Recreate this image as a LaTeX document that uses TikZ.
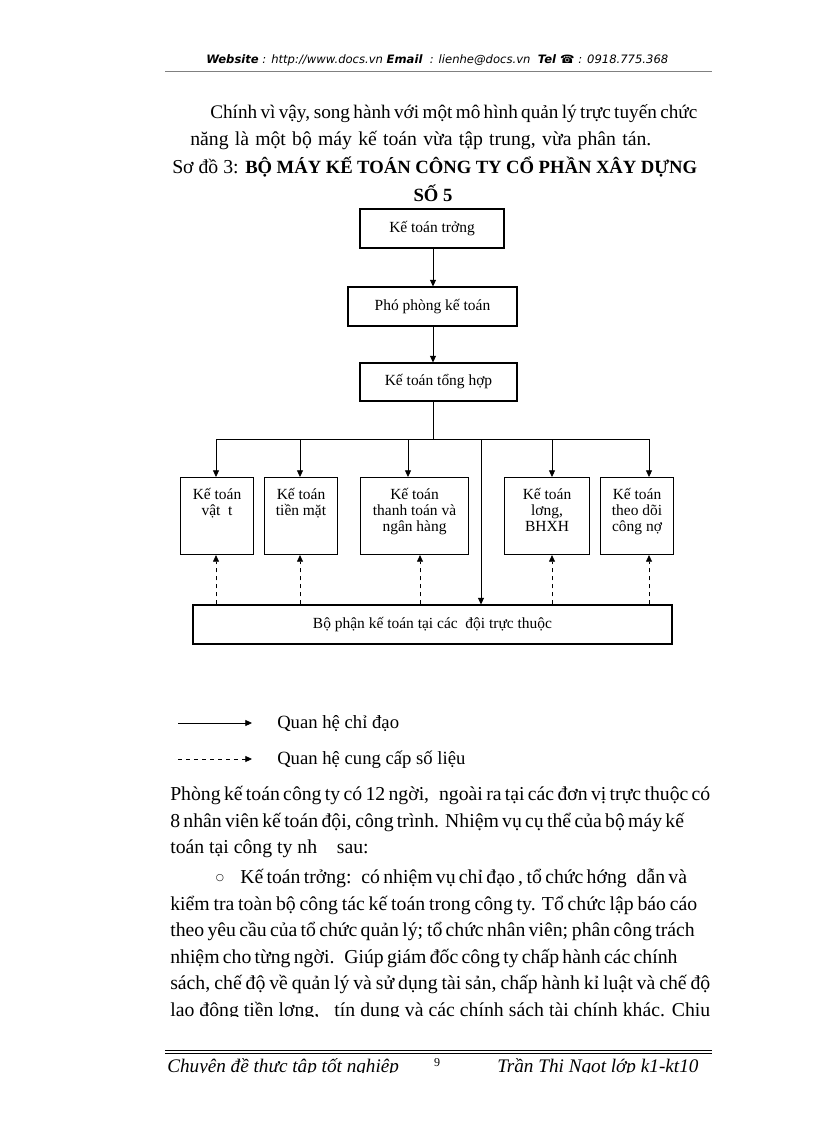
\documentclass[tikz,border=0pt]{standalone}
\usepackage{fontspec}
\setmainfont{Liberation Serif}
\newfontfamily\webfont{DejaVu Sans}
\usetikzlibrary{arrows.meta}

\tikzset{
  hop/.style={draw, line width=.8pt, inner sep=0pt, font=\fontsize{11.6}{11.8}\selectfont},
  obox/.style={hop, anchor=north west},
  chidao/.style={->, line width=.6pt},
  cungcap/.style={->, line width=.6pt, dash pattern=on 3.2pt off 2.8pt},
  dong/.style={anchor=base west, inner sep=0pt, font=\fontsize{14.8}{17}\selectfont},
  chu/.style={dong, font=\fontsize{14.4}{17}\selectfont\itshape},
}
\newcommand{\hang}[2]{\makebox[#1][s]{#2}}
\newcommand{\otrong}[3]{\parbox[c][#2][t]{#1}{\centering\vspace*{8.25pt}#3\par}}

\begin{document}
\begin{tikzpicture}[x=0.75pt, y=-0.75pt, >={Triangle[length=5pt,width=4.5pt]}]
\useasboundingbox (0,0) rectangle (816,1123);

\node[anchor=base west, inner sep=0pt, font=\webfont\fontsize{8.7}{10}\selectfont\itshape] (web) at (206,64)
  {\textbf{Website} : http://www.docs.vn \textbf{Email}\ \ : lienhe@docs.vn\ \ \textbf{Tel ☎} : 0918.775.368};
\draw[line width=.5pt, gray] (165,71) -- (712,71);

\node[dong, font=\fontsize{14.4}{17}\selectfont] (l1) at (210,119) {\hang{365.25pt}{Chính vì vậy, song hành với một mô hình quản lý trực tuyến chức}};
\node[dong] (l2) at (190,146) {\hang{345.75pt}{năng là một bộ máy kế toán vừa tập trung, vừa phân tán.}};
\node[dong] (sodo) at (172,174) {Sơ đồ 3:};
\node[dong, font=\fontsize{14}{17}\selectfont\bfseries] (tieude) at (245,174) {\hang{339pt}{BỘ MÁY KẾ TOÁN CÔNG TY CỔ PHẦN XÂY DỰNG}};
\node[dong, anchor=base, font=\fontsize{14}{17}\selectfont\bfseries] (so5) at (433,202) {SỐ 5};

\node[hop, minimum width=108pt, minimum height=29.25pt] (truong) at (432,228.5) {Kế toán trởng};
\node[hop, minimum width=126.75pt, minimum height=29.25pt] (phophong) at (432.5,306.5) {Phó phòng kế toán};
\node[hop, minimum width=117.75pt, minimum height=28.5pt] (tonghop) at (438.5,382) {Kế toán tổng hợp};

\node[obox] (vattu) at (180,477) {\otrong{54.75pt}{57.75pt}{Kế toán\\vật\ \ t}};
\node[obox] (tienmat) at (264,477) {\otrong{54.75pt}{57.75pt}{Kế toán\\tiền mặt}};
\node[obox] (thanhtoan) at (360,477) {\otrong{81pt}{57.75pt}{Kế toán\\thanh toán và\\ngân hàng}};
\node[obox] (luong) at (504,477) {\otrong{63.75pt}{57.75pt}{Kế toán\\lơng,\\BHXH}};
\node[obox] (congno) at (600,477) {\otrong{54.75pt}{57.75pt}{Kế toán\\theo dõi\\công nợ}};
\node[hop, minimum width=359.25pt, minimum height=29.25pt] (doi) at (432.5,624.5) {Bộ phận kế toán tại các\ \ đội trực thuộc};

\coordinate (bus) at (433,439);
\draw[chidao] (bus |- truong.south) -- (bus |- phophong.north);
\draw[chidao] (bus |- phophong.south) -- (bus |- tonghop.north);
\draw[line width=.6pt] (bus |- tonghop.south) -- (bus);
\foreach \x/\n in {216/vattu,300/tienmat,408/thanhtoan,552/luong,649/congno} {
  \coordinate (b\n) at (\x,439);
  \draw[chidao] (b\n) -- (b\n |- \n.north);
}
\draw[line width=.6pt] (bvattu) -- (bcongno);
\coordinate (bdoi) at (481,439);
\draw[chidao] (bdoi) -- (bdoi |- doi.north);
\foreach \x/\n in {216/vattu,300/tienmat,420/thanhtoan,552/luong,649/congno} {
  \coordinate (d\n) at (\x,605);
  \draw[cungcap] (d\n |- doi.north) -- (d\n |- \n.south);
}

\coordinate (lg1a) at (178,723);
\coordinate (lg1b) at (252,723);
\coordinate (lg2a) at (178,759);
\coordinate (lg2b) at (252,759);
\draw[chidao] (lg1a) -- (lg1b);
\draw[cungcap] (lg2a) -- (lg2b);
\node[dong, font=\fontsize{14}{17}\selectfont] (qhcd) at (277,728) {Quan hệ chỉ đạo};
\node[dong, font=\fontsize{14}{17}\selectfont] (qhcc) at (277,764) {Quan hệ cung cấp số liệu};

\node[dong] (p1) at (170,800) {\hang{405pt}{Phòng kế toán công ty có 12 ngời,\ \ \ ngoài ra tại các đơn vị trực thuộc có}};
\node[dong] (p2) at (170,827) {\hang{364.5pt}{8 nhân viên kế toán đội, công trình. Nhiệm vụ cụ thể của bộ máy kế}};
\node[dong] (p3) at (170,853) {toán tại công ty nh\ \ \ \ sau:};
\node[anchor=base, inner sep=0pt, font=\webfont\fontsize{7}{8}\selectfont] (cham) at (220,880) {○};
\node[dong] (k1) at (240,883) {\hang{333.75pt}{Kế toán trởng:\ \ \ có nhiệm vụ chỉ đạo , tổ chức hớng\ \ \ dẫn và}};
\node[dong] (k2) at (170,910) {\hang{395.25pt}{kiểm tra toàn bộ công tác kế toán trong công ty. Tổ chức lập báo cáo}};
\node[dong] (k3) at (170,936.5) {\hang{392.25pt}{theo yêu cầu của tổ chức quản lý; tổ chức nhân viên; phân công trách}};
\node[dong] (k4) at (170,963) {\hang{378.75pt}{nhiệm cho từng ngời.\ \ \ Giúp giám đốc công ty chấp hành các chính}};
\node[dong] (k5) at (170,989.5) {\hang{405pt}{sách, chế độ về quản lý và sử dụng tài sản, chấp hành kỉ luật và chế độ}};
\begin{scope}
\clip (0,0) rectangle (816,1016.3);
\node[dong] (k6) at (170,1016) {\hang{405pt}{lao động tiền lơng,\ \ \ tín dụng và các chính sách tài chính khác. Chịu}};
\end{scope}

\draw[line width=1.2pt] (165,1050.5) -- (712,1050.5);
\draw[line width=.4pt] (165,1053.2) -- (712,1053.2);
\begin{scope}
\clip (0,0) rectangle (816,1072.3);
\node[chu] (chuyende) at (167,1072) {Chuyên đề thực tập tốt nghiệp};
\node[anchor=base, inner sep=0pt, font=\fontsize{9}{10}\selectfont] (trang) at (437,1066) {9};
\node[chu] (tacgia) at (497,1072) {Trần Thị Ngọt lớp k1-kt10};
\end{scope}
\end{tikzpicture}
\end{document}
